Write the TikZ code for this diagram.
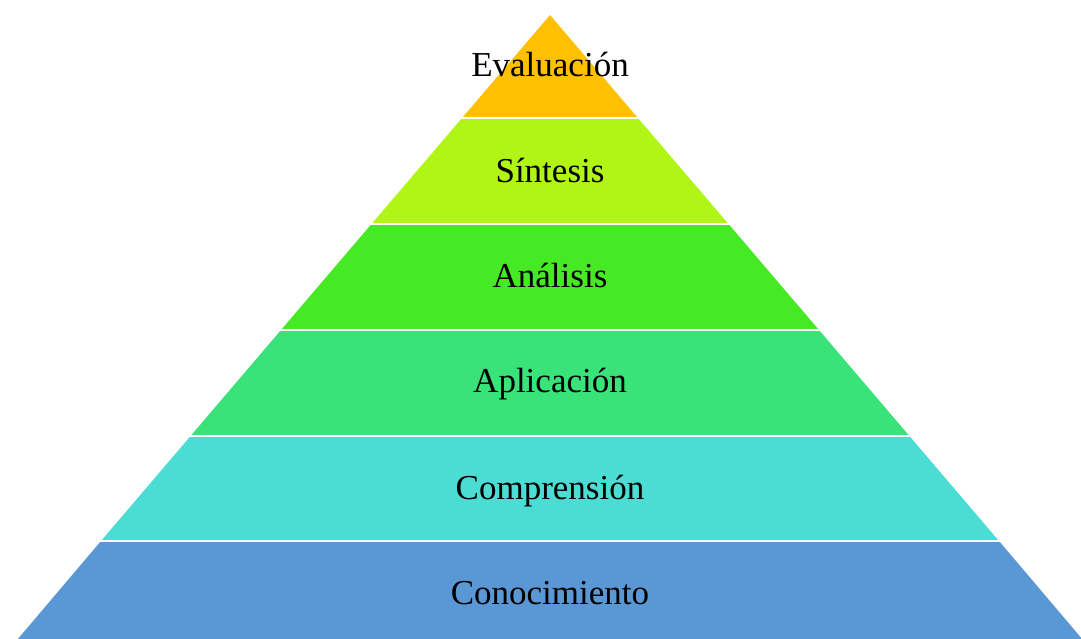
\documentclass[tikz,border=0pt]{standalone}
\usepackage{fontspec}
\setmainfont{Liberation Serif}
\definecolor{cEval}{HTML}{FFC000}
\definecolor{cSint}{HTML}{B0F515}
\definecolor{cAnal}{HTML}{45EA24}
\definecolor{cApli}{HTML}{3AE27A}
\definecolor{cComp}{HTML}{4BDDD3}
\definecolor{cCono}{HTML}{5A98D5}
\begin{document}
\begin{tikzpicture}[x=1pt,y=-1pt,
  lbl/.style={anchor=base, font=\fontsize{35}{40}\selectfont, text=black, inner sep=0pt},
  sep/.style={draw=white, line width=2pt}]
\useasboundingbox (0,0) rectangle (1081,638);
\fill[cEval] (550,15) -- (637.5,117.5) -- (462.5,117.5) -- cycle;
\fill[cSint] (462.5,117.5) -- (637.5,117.5) -- (728.5,224) -- (371.5,224) -- cycle;
\fill[cAnal] (371.5,224) -- (728.5,224) -- (819,330) -- (281,330) -- cycle;
\fill[cApli] (281,330) -- (819,330) -- (909,435.5) -- (191,435.5) -- cycle;
\fill[cComp] (191,435.5) -- (909,435.5) -- (999,541) -- (101,541) -- cycle;
\fill[cCono] (101,541) -- (999,541) -- (1083,640) -- (17,640) -- cycle;
\draw[sep] (455,117.5) -- (645,117.5);
\draw[sep] (365,224) -- (735,224);
\draw[sep] (275,330) -- (825,330);
\draw[sep] (185,435.5) -- (915,435.5);
\draw[sep] (95,541) -- (1005,541);
\node[lbl] (eval) at (550,76) {Evaluación};
\node[lbl] (sint) at (550,182) {Síntesis};
\node[lbl] (anal) at (550,287) {Análisis};
\node[lbl] (apli) at (550,392) {Aplicación};
\node[lbl] (comp) at (550,499) {Comprensión};
\node[lbl] (cono) at (550,604) {Conocimiento};
\end{tikzpicture}
\end{document}
